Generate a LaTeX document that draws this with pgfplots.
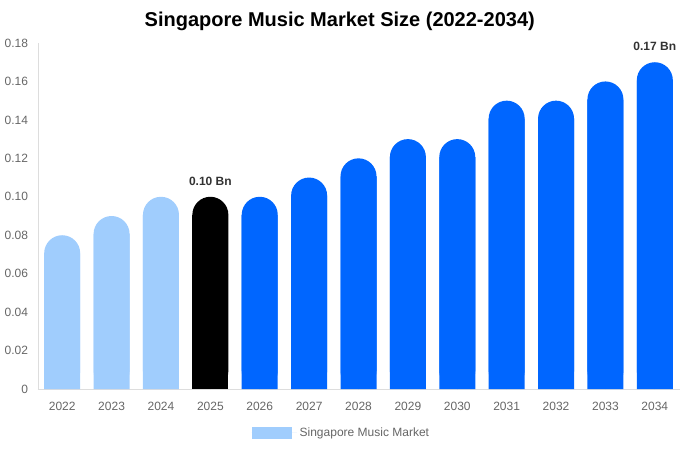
\documentclass[border=0pt]{standalone}
\usepackage{fontspec}
\setmainfont{Liberation Sans}
\usepackage{pgfplots}
\pgfplotsset{compat=1.18}
\usepackage{pgfplotstable}
\definecolor{pastblue}{RGB}{160,205,253}
\definecolor{foreblue}{RGB}{0,102,255}
\definecolor{axisgray}{RGB}{221,221,221}
\definecolor{tickgray}{RGB}{102,102,102}
\definecolor{labeldark}{RGB}{51,51,51}

% x = category index, value in Bn USD
\pgfplotstableread[col sep=comma]{
x,year,value,label
0,2022,0.08,
1,2023,0.09,
2,2024,0.10,
}\pastdata
\pgfplotstableread[col sep=comma]{
x,year,value,label
3,2025,0.10,0.10 Bn
}\currentdata
\pgfplotstableread[col sep=comma]{
x,year,value,label
4,2026,0.10,
5,2027,0.11,
6,2028,0.12,
7,2029,0.13,
8,2030,0.13,
9,2031,0.15,
10,2032,0.15,
11,2033,0.16,
12,2034,0.17,0.17 Bn
}\forecastdata

\begin{document}
\begin{tikzpicture}
\begin{axis}[
    scale only axis,
    width=481.5pt, height=259.5pt,
    xmin=-0.49, xmax=12.51,
    ymin=0, ymax=0.18,
    axis x line*=bottom, axis y line*=left,
    axis line style={-, draw=axisgray},
    major tick length=0pt,
    xtick={0,1,2,3,4,5,6,7,8,9,10,11,12},
    xticklabels={2022,2023,2024,2025,2026,2027,2028,2029,2030,2031,2032,2033,2034},
    ytick={0,0.02,0.04,0.06,0.08,0.10,0.12,0.14,0.16,0.18},
    yticklabels={0,0.02,0.04,0.06,0.08,0.10,0.12,0.14,0.16,0.18},
    ticklabel style={font=\fontsize{9}{11}\selectfont, text=tickgray},
    xticklabel style={yshift=-6.5pt},
    yticklabel style={xshift=-4pt},
    /pgf/number format/assume math mode=true,
    title={Singapore Music Market Size (2022-2034)},
    title style={font=\bfseries\fontsize{15}{18}\selectfont, at={(0.47,1)},
        anchor=center, yshift=10.5pt},
    ybar, bar width=27pt, bar shift=0pt,
    legend style={at={(0.473,-0.127)}, anchor=center, draw=none,
        font=\fontsize{9}{11}\selectfont, text=tickgray},
    legend image code/.code={\fill[pastblue, sharp corners] (0pt,-4.5pt) rectangle (30pt,4.5pt);
        \path (0pt,0pt) -- (34pt,0pt);},
    nodes near coords style={font=\bfseries\fontsize{9}{11}\selectfont, text=labeldark, yshift=5pt},
]
% rounded bars
\addplot[fill=pastblue, draw=none, rounded corners=13.5pt] table[x=x, y=value] {\pastdata};
\addlegendentry{Singapore Music Market}
\addplot[fill=black, draw=none, rounded corners=13.5pt, forget plot,
    nodes near coords, point meta=explicit symbolic]
    table[x=x, y=value, meta=label] {\currentdata};
\addplot[fill=foreblue, draw=none, rounded corners=13.5pt, forget plot,
    nodes near coords, point meta=explicit symbolic]
    table[x=x, y=value, meta=label] {\forecastdata};
% square lower parts hide the rounded bottom corners
\addplot[fill=pastblue, draw=none, forget plot] table[x=x, y expr=\thisrow{value}-0.0094] {\pastdata};
\addplot[fill=black, draw=none, forget plot] table[x=x, y expr=\thisrow{value}-0.0094] {\currentdata};
\addplot[fill=foreblue, draw=none, forget plot] table[x=x, y expr=\thisrow{value}-0.0094] {\forecastdata};
\end{axis}
\pgfresetboundingbox
\path ([xshift=-28.5pt,yshift=-45.75pt]current axis.south west)
    rectangle ([yshift=32.25pt]current axis.north east);
\end{tikzpicture}
\end{document}
